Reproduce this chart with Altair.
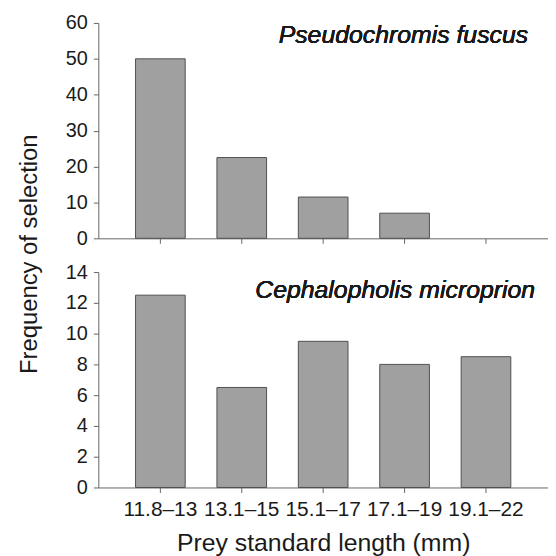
import altair as alt
import pandas as pd

categories = ["11.8–13", "13.1–15", "15.1–17", "17.1–19", "19.1–22"]
fuscus = [50, 22.5, 11.5, 7, 0]
microprion = [12.5, 6.5, 9.5, 8, 8.5]

df_top = pd.DataFrame({"cat": categories, "v": fuscus})
df_bot = pd.DataFrame({"cat": categories, "v": microprion})

W, H = 453, 217
FONT = "Liberation Sans"

xscale = alt.Scale(domain=categories, paddingInner=0.39, paddingOuter=0.457)

def panel(df, ymax, step, label, lx, ly, show_x):
    base = alt.Chart(df)
    bars = base.transform_filter("datum.v > 0").mark_bar(
        fill="#a0a0a0", stroke="#505050", strokeWidth=1).encode(
        x=alt.X("cat:N", scale=xscale, sort=categories,
                axis=alt.Axis(title="Prey standard length (mm)" if show_x else None,
                              labels=show_x, labelAngle=0, labelFontSize=21,
                              titleFontSize=25, titleFontWeight="normal",
                              titlePadding=11, labelPadding=6)),
        y=alt.Y("v:Q", scale=alt.Scale(domain=[0, ymax], nice=False),
                axis=alt.Axis(title=None, values=list(range(0, ymax + 1, step)),
                              labelFontSize=20, labelPadding=6)),
    )
    txt = base.mark_text(text=label, font=FONT, fontSize=25, fontStyle="italic",
                         fontWeight="normal", align="right", baseline="alphabetic",
                         color="#1a1a1a").encode(
        x=alt.value(lx), y=alt.value(ly))
    return alt.layer(bars, txt).properties(width=W, height=H)

top = panel(df_top, 60, 10, "Pseudochromis fuscus", 433, 20, False)
bot = panel(df_bot, 14, 2, "Cephalopholis microprion", 440, 26, True)

chart = alt.vconcat(top, bot, spacing=14).properties(
    title=alt.TitleParams("Frequency of selection", orient="left", anchor="middle",
                          fontSize=24, fontWeight="normal", font=FONT, color="#1a1a1a",
                          offset=24, dx=30),
    padding={"left": 9, "top": 3, "right": 0, "bottom": 0},
).configure_view(stroke=None).configure_axis(
    domainColor="#666666", tickColor="#666666", tickSize=5, grid=False,
    labelFont=FONT, titleFont=FONT, labelColor="#1a1a1a", titleColor="#1a1a1a",
)

chart.save("out.html", embed_options={"renderer": "svg", "actions": False})
